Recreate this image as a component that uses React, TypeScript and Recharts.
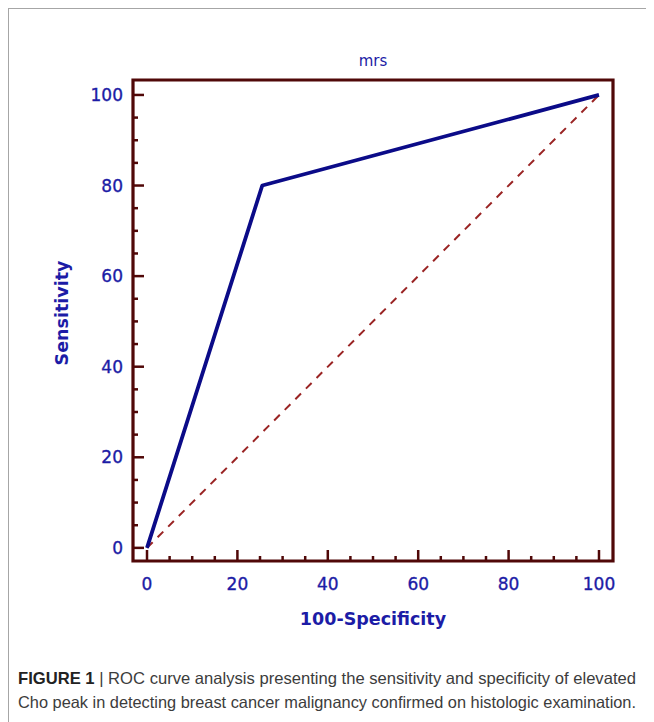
import { LineChart, Line, XAxis, YAxis, ReferenceArea, Label } from 'recharts';

// ROC curve (100-Specificity vs Sensitivity)
const rocX = [0, 25.5, 100];
const rocY = [0, 80, 100];

// reference diagonal
const diagX = [0, 100];
const diagY = [0, 100];

const tickValues = [0, 5, 10, 15, 20, 25, 30, 35, 40, 45, 50, 55, 60, 65, 70, 75, 80, 85, 90, 95, 100];
const labelValues = [0, 20, 40, 60, 80, 100];

const xDomain = [-3.1, 103.1];
const yDomain = [-2.9, 103.3];

const rocData = rocX.map((x, i) => ({ x, y: rocY[i] }));
const diagData = diagX.map((x, i) => ({ x, y: diagY[i] }));

const FRAME = '#500808';
const INK = '#1c1ca6';
const FONT = '"DejaVu Sans", Verdana, sans-serif';

const XTick = (props: any) => {
  const { x, y, payload } = props;
  const v = payload.value;
  const major = labelValues.includes(v);
  return (
    <g>
      <line x1={x} x2={x} y1={y} y2={y - (major ? 11 : 5)} stroke={FRAME} strokeWidth={2.5} />
      {major && (
        <text
          x={x}
          y={y + 23}
          textAnchor="middle"
          dominantBaseline="central"
          fill={INK}
          stroke={INK}
          strokeWidth={0.35}
          fontSize={17}
          fontFamily={FONT}
        >
          {v}
        </text>
      )}
    </g>
  );
};

const YTick = (props: any) => {
  const { x, y, payload } = props;
  const v = payload.value;
  const major = labelValues.includes(v);
  return (
    <g>
      <line x1={x} x2={x + (major ? 11 : 5)} y1={y} y2={y} stroke={FRAME} strokeWidth={2.5} />
      {major && (
        <text
          x={x - 10}
          y={y}
          textAnchor="end"
          dominantBaseline="central"
          fill={INK}
          stroke={INK}
          strokeWidth={0.35}
          fontSize={17}
          fontFamily={FONT}
        >
          {v}
        </text>
      )}
    </g>
  );
};

const XTitle = () => (
  <text x={364} y={616} textAnchor="middle" fill={INK} fontSize={17.5} fontWeight="bold" fontFamily={FONT}>
    100-Specificity
  </text>
);

const YTitle = () => (
  <text
    x={53}
    y={304}
    transform="rotate(-90 53 304)"
    textAnchor="middle"
    dominantBaseline="central"
    fill={INK}
    fontSize={17.5}
    fontWeight="bold"
    fontFamily={FONT}
  >
    Sensitivity
  </text>
);

const App = () => {
  return (
    <div
      style={{
        position: 'relative',
        width: 646,
        height: 714,
        boxSizing: 'border-box',
        borderTop: '1px solid #a6a6a6',
        borderLeft: '1px solid #a6a6a6',
        background: '#fff',
      }}
    >
      <div style={{ position: 'absolute', left: 0, top: 0 }}>
        <LineChart width={645} height={620} margin={{ top: 71, right: 41, left: 64, bottom: 38 }}>
          <XAxis
            type="number"
            dataKey="x"
            domain={xDomain}
            ticks={tickValues}
            interval={0}
            allowDataOverflow
            axisLine={false}
            tickLine={false}
            tickSize={0}
            tickMargin={0}
            tick={<XTick />}
            height={30}
          >
            <Label content={<XTitle />} />
          </XAxis>
          <YAxis
            type="number"
            dataKey="y"
            domain={yDomain}
            ticks={tickValues}
            interval={0}
            allowDataOverflow
            axisLine={false}
            tickLine={false}
            tickSize={0}
            tickMargin={0}
            tick={<YTick />}
            width={60}
          >
            <Label content={<YTitle />} />
          </YAxis>
          <ReferenceArea
            x1={xDomain[0]}
            x2={xDomain[1]}
            y1={yDomain[0]}
            y2={yDomain[1]}
            fill="none"
            fillOpacity={0}
            stroke={FRAME}
            strokeWidth={3.2}
            strokeOpacity={1}
            ifOverflow="visible"
            label={{ value: 'mrs', position: 'top', offset: 14, fill: INK, fontSize: 15, fontFamily: FONT }}
          />
          <Line
            data={diagData}
            dataKey="y"
            stroke="#9a2424"
            strokeWidth={2}
            strokeDasharray="8 7"
            dot={false}
            isAnimationActive={false}
          />
          <Line
            data={rocData}
            dataKey="y"
            stroke="#0b0b88"
            strokeWidth={3.8}
            strokeLinejoin="round"
            dot={false}
            isAnimationActive={false}
          />
        </LineChart>
      </div>
      <svg width={645} height={713} style={{ position: 'absolute', left: 0, top: 0, pointerEvents: 'none' }}>
        <text x={9} y={675} textLength={618} lengthAdjust="spacingAndGlyphs" fontFamily='"Liberation Sans", Arial, sans-serif' fontSize={16.5} fill="#3c3c3c">
          <tspan fontWeight="bold" fill="#222">FIGURE 1</tspan>
          <tspan>{'  |  ROC curve analysis presenting the sensitivity and specificity of elevated'}</tspan>
        </text>
        <text x={9} y={699} textLength={618} lengthAdjust="spacingAndGlyphs" fontFamily='"Liberation Sans", Arial, sans-serif' fontSize={16.5} fill="#3c3c3c">
          Cho peak in detecting breast cancer malignancy confirmed on histologic examination.
        </text>
      </svg>
    </div>
  );
};

export default App;
